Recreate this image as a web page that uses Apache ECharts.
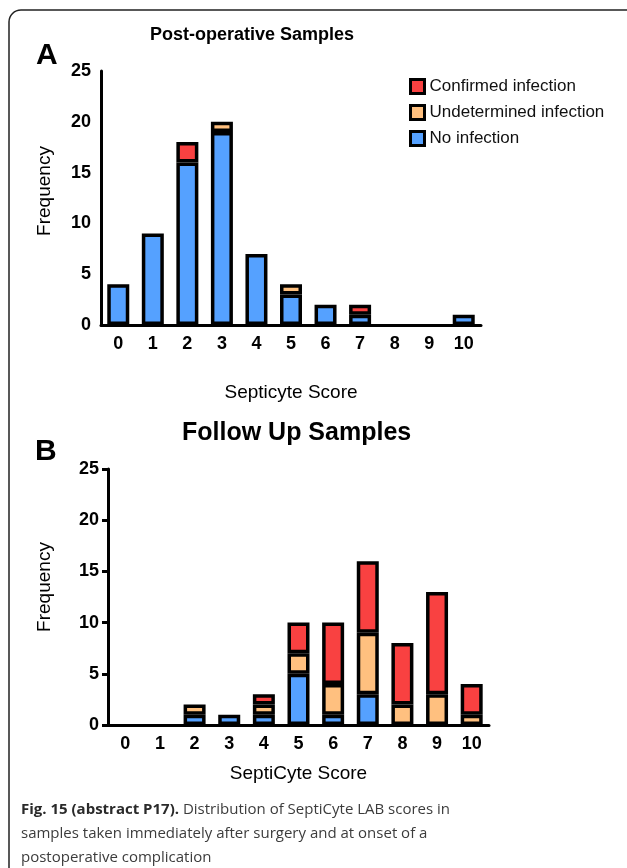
<!DOCTYPE html>
<html>
<head>
<meta charset="utf-8">
<script src="https://cdn.jsdelivr.net/npm/echarts@6/dist/echarts.min.js"></script>
<style>
html,body{margin:0;padding:0;background:#fff;}
#chart{width:627px;height:868px;}
</style>
</head>
<body>
<div id="chart"></div>
<script>
// ---- Data ----
var scores = ['0','1','2','3','4','5','6','7','8','9','10'];
var yTicks = [0, 5, 10, 15, 20, 25];

// Panel A: Post-operative samples
var postNoInfection       = [4, 9, 16, 19, 7, 3, 2, 1, 0, 0, 1];
var postUndetermined      = [0, 0, 0, 1, 0, 1, 0, 0, 0, 0, 0];
var postConfirmed         = [0, 0, 2, 0, 0, 0, 0, 1, 0, 0, 0];

// Panel B: Follow up samples
var followNoInfection     = [0, 0, 1, 1, 1, 5, 1, 3, 0, 0, 0];
var followUndetermined    = [0, 0, 1, 0, 1, 2, 3, 6, 2, 3, 1];
var followConfirmed       = [0, 0, 0, 0, 1, 3, 6, 7, 6, 10, 3];

var seriesNames = ['Confirmed infection', 'Undetermined infection', 'No infection'];
var colors = {'Confirmed infection': '#f94141', 'Undetermined infection': '#ffc07f', 'No infection': '#55a1ff'};

// ---- Chart ----
var FONT = '"Liberation Sans", Arial, Helvetica, sans-serif';
var chart = echarts.init(document.getElementById('chart'), null, {renderer: 'canvas'});

function nz(arr) { return arr.map(function (v) { return v === 0 ? null : v; }); }

function bar(name, data, idx) {
  return {
    name: name,
    type: 'bar',
    stack: 'S' + idx,
    xAxisIndex: idx,
    yAxisIndex: idx,
    data: nz(data),
    barWidth: 22,
    itemStyle: {color: colors[name], borderColor: '#000', borderWidth: 3.5},
    emphasis: {disabled: true}
  };
}

function xAxisCfg(idx, name, gap) {
  return {
    type: 'category', gridIndex: idx, data: scores,
    axisLine: {lineStyle: {color: '#000', width: 3}},
    axisTick: {show: false},
    axisLabel: {color: '#000', fontFamily: FONT, fontWeight: 'bold', fontSize: 18, margin: 10},
    name: name, nameLocation: 'middle', nameGap: gap,
    nameTextStyle: {color: '#000', fontFamily: FONT, fontSize: 19}
  };
}
function yAxisCfg(idx, ticks, gap, shift) {
  return {
    type: 'value', gridIndex: idx, min: yTicks[0], max: yTicks[yTicks.length - 1], interval: 5,
    splitLine: {show: false},
    axisLine: {show: true, lineStyle: {color: '#000', width: 3}},
    axisTick: {show: ticks, length: 6, lineStyle: {width: 3, color: '#000'}},
    axisLabel: {color: '#000', fontFamily: FONT, fontWeight: 'bold', fontSize: 18, margin: ticks ? 9 : 10},
    name: 'Frequency', nameLocation: 'middle', nameGap: gap,
    nameTextStyle: {color: '#000', fontFamily: FONT, fontSize: 19, padding: [0, 0, 0, shift]}
  };
}

var option = {
  animation: false,
  backgroundColor: '#fff',
  grid: [
    {left: 101, right: 146, top: 71, bottom: 543},
    {left: 108, right: 138, top: 469, bottom: 143}
  ],
  xAxis: [xAxisCfg(0, 'Septicyte Score', 58), xAxisCfg(1, 'SeptiCyte Score', 39)],
  yAxis: [yAxisCfg(0, false, 47, 14), yAxisCfg(1, true, 54, 20)],
  legend: {
    data: seriesNames,
    icon: 'rect',
    orient: 'vertical', left: 404, top: 73,
    itemWidth: 14, itemHeight: 14, itemGap: 9,
    itemStyle: {borderColor: '#000', borderWidth: 3},
    textStyle: {color: '#111', fontFamily: FONT, fontSize: 17, lineHeight: 16},
    selectedMode: false
  },
  series: [
    bar('No infection', postNoInfection, 0),
    bar('Undetermined infection', postUndetermined, 0),
    bar('Confirmed infection', postConfirmed, 0),
    bar('No infection', followNoInfection, 1),
    bar('Undetermined infection', followUndetermined, 1),
    bar('Confirmed infection', followConfirmed, 1)
  ],
  graphic: [
    {type: 'rect', silent: true, shape: {x: 9, y: 10, width: 700, height: 900, r: 12},
     style: {fill: 'none', stroke: '#222', lineWidth: 1.5}},
    {type: 'text', left: 150, top: 26, style: {text: 'Post-operative Samples', font: 'bold 18px ' + FONT, fill: '#000'}},
    {type: 'text', left: 36, top: 41, style: {text: 'A', font: 'bold 30px ' + FONT, fill: '#000'}},
    {type: 'text', left: 182, top: 421, style: {text: 'Follow Up Samples', font: 'bold 25px ' + FONT, fill: '#000'}},
    {type: 'text', left: 35, top: 437, style: {text: 'B', font: 'bold 30px ' + FONT, fill: '#000'}},
    {type: 'text', left: 21, top: 798, style: {
      text: '{b|Fig. 15 (abstract P17).} Distribution of SeptiCyte LAB scores in\nsamples taken immediately after surgery and at onset of a\npostoperative complication',
      font: '15px "Open Sans", sans-serif', fill: '#3c3c3c', lineHeight: 24,
      rich: {b: {font: 'bold 15px "Open Sans", sans-serif', fill: '#2a2a2a'}}
    }}
  ]
};
chart.setOption(option);
</script>
</body>
</html>
